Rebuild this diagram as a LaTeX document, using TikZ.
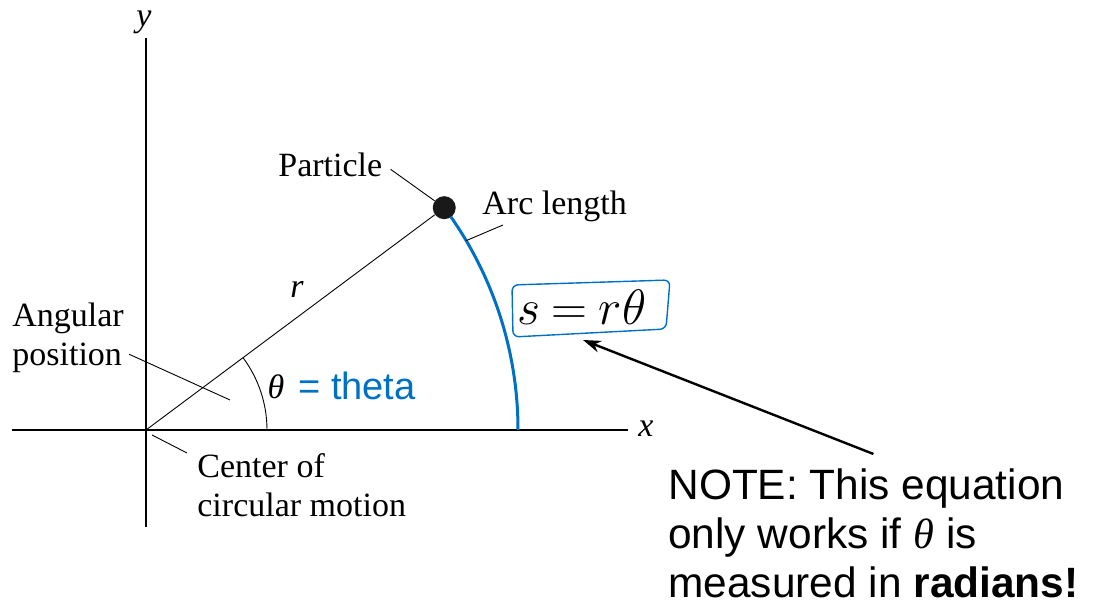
\documentclass[tikz,border=0pt]{standalone}
\usepackage{fontspec}
\setmainfont{Liberation Serif}
\newfontfamily\notefont{Liberation Sans}
\usetikzlibrary{arrows.meta,calc}
\definecolor{inkblue}{RGB}{0,112,196}

\begin{document}
\begin{tikzpicture}[x=0.5pt,y=0.5pt,
  axis/.style={line width=1pt},
  leader/.style={line width=0.45pt},
  lbl/.style={font=\fontsize{17}{19.5}\selectfont,inner sep=0,align=left},
  varlbl/.style={font=\fontsize{17}{19.5}\selectfont\itshape,inner sep=0},
  handbox/.style={draw=inkblue,line width=0.7pt,rounded corners=3pt}]
  \useasboundingbox (0,0) rectangle (1093,608);

  % Axes
  \coordinate (O) at (146,178);
  \draw[axis] (12,178) -- (628,178);
  \draw[axis] (146,81) -- (146,570);
  \node[varlbl,anchor=base] (xlbl) at (646,171) {x};
  \node[varlbl,anchor=base] (ylbl) at (144,581) {y};

  % Radius, angle and arc length
  \node[circle,fill=black!90,minimum size=11.5pt,inner sep=0] (dot) at ($(O)+(36.7:372)$) {};
  \draw[leader] (O) -- (dot);
  \draw[leader] (O) ++(0:121) arc (0:36.7:121);
  \draw[inkblue,line width=1.5pt] (O) ++(0:372) arc (0:35:372);
  \coordinate (arcpt) at ($(O)+(30.6:372)$);
  \node[varlbl,anchor=base] (rlbl) at (297,310) {r};
  \node[varlbl,anchor=base] (thlbl) at (276,209) {θ};
  \node[font=\notefont\fontsize{19}{22}\selectfont,text=inkblue,inner sep=0,anchor=base west] (thetanote) at (298,208) {= theta};

  % Labels with leaders
  \node[lbl,anchor=base west] (ptext) at (278,431) {Particle};
  \draw[leader] ($(ptext.east)+(8,-4)$) -- (dot);
  \node[lbl,anchor=base west] (arclbl) at (482,393) {Arc length};
  \draw[leader] ($(arclbl.base west)+(21,-10)$) -- (arcpt);
  \node[lbl,anchor=north west] (angpos) at (12,305) {Angular\\position};
  \coordinate (angtip) at (230,208);
  \draw[leader] ($(angpos.east)+(5,-16)$) -- (angtip);
  \node[lbl,anchor=north west] (center) at (197,155) {Center of\\circular motion};
  \coordinate (ctrtip) at (152,173);
  \draw[leader] ($(center.north west)+(-10,0)$) -- (ctrtip);

  % Equation box
  \node[font=\fontsize{24.88}{30}\selectfont,inner sep=0,anchor=base] (eq) at (582,283) {$s\mskip4mu{=}\mskip4mu r\theta$};
  \draw[handbox] (512,323) -- (670,328) -- (666,279) -- (513,271) -- cycle;
  \coordinate (boxtip) at (583,268);

  % Note
  \node[font=\notefont\fontsize{21.2}{24.5}\selectfont,align=left,inner sep=0,anchor=north west] (note) at (668,140)
    {NOTE: This equation\\only works if {\rmfamily\itshape θ} is\\measured in \textbf{radians!}};
  \draw[line width=1.2pt,-{Stealth[length=9pt,width=6pt]}] (note.north) ++(0,14) -- (boxtip);
\end{tikzpicture}
\end{document}
